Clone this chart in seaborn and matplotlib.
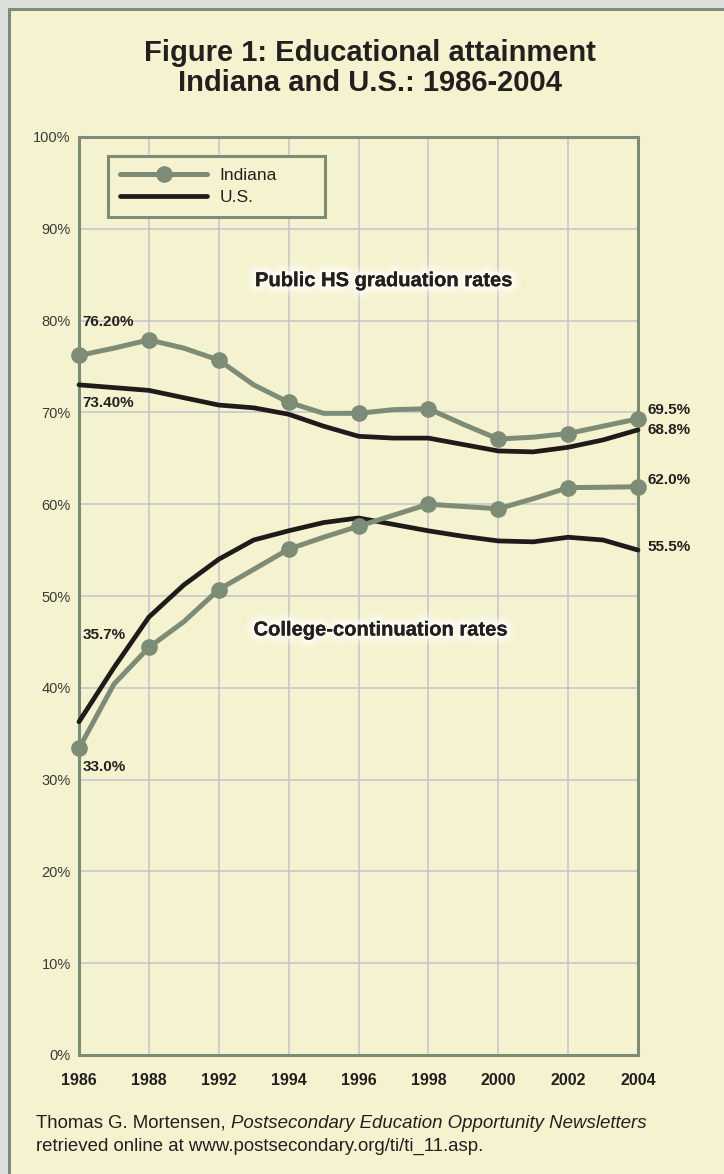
import matplotlib.pyplot as plt
import matplotlib.patheffects as pe
from matplotlib.patches import Rectangle
import pandas as pd
import seaborn as sns

# one position per gridline, plus a half step between them
steps = [0, 0.5, 1, 1.5, 2, 2.5, 3, 3.5, 4, 4.5, 5, 5.5, 6, 6.5, 7, 7.5, 8]
year_labels = ['1986', '1988', '1992', '1994', '1996', '1998', '2000', '2002', '2004']

# Public HS graduation rates (%)
indiana_hs = [76.2, 77.0, 77.9, 77.0, 75.7, 73.0, 71.1, 69.9, 69.9, 70.3, 70.4, 68.7, 67.1, 67.3, 67.7, 68.5, 69.3]
us_hs = [73.0, 72.7, 72.4, 71.6, 70.8, 70.5, 69.8, 68.5, 67.4, 67.2, 67.2, 66.5, 65.8, 65.7, 66.2, 67.0, 68.1]

# College-continuation rates (%)
indiana_cc = [33.4, 40.4, 44.4, 47.2, 50.7, 52.9, 55.1, 56.4, 57.6, 58.8, 60.0, 59.75, 59.5, 60.6, 61.8, 61.85, 61.9]
us_cc = [36.3, 42.2, 47.7, 51.2, 54.0, 56.1, 57.1, 58.0, 58.5, 57.8, 57.1, 56.5, 56.0, 55.9, 56.4, 56.1, 55.0]

left_labels = ['76.20%', '73.40%', '35.7%', '33.0%']
right_labels = ['69.5%', '68.8%', '62.0%', '55.5%']

yellow = '#f5f3cf'
green = '#7d8c76'
black = '#1f1b1b'
ink = '#231f20'
narrow = ['Liberation Sans Narrow', 'Liberation Sans', 'DejaVu Sans']
sans = ['Liberation Sans', 'DejaVu Sans']

sns.set_theme(style='whitegrid', rc={
    'axes.facecolor': yellow,
    'grid.color': '#c4c4cc',
    'grid.linewidth': 1.1,
    'axes.edgecolor': green,
    'axes.linewidth': 2.2,
})
plt.rcParams['font.family'] = sans

fig = plt.figure(figsize=(7.24, 11.74), dpi=100)
fig.patch.set_facecolor('#dcdedb')
panel = Rectangle((8.5 / 724, -0.05), 1.2, 1 - 8.5 / 1174 + 0.05, transform=fig.transFigure,
                  facecolor=yellow, edgecolor=green, linewidth=2.2, zorder=0)
fig.add_artist(panel)

ax = fig.add_axes([79 / 724, 119 / 1174, 559 / 724, 918 / 1174])

hs = pd.DataFrame({'step': steps, 'Indiana': indiana_hs, 'U.S.': us_hs})
cc = pd.DataFrame({'step': steps, 'Indiana': indiana_cc, 'U.S.': us_cc})

sns.lineplot(data=hs, x='step', y='U.S.', ax=ax, color=black, lw=3.4,
             label='U.S.', clip_on=False, zorder=3)
sns.lineplot(data=cc, x='step', y='U.S.', ax=ax, color=black, lw=3.4,
             clip_on=False, zorder=3)
sns.lineplot(data=hs, x='step', y='Indiana', ax=ax, color=green, lw=3.6,
             marker='o', markersize=12, markevery=2, markeredgewidth=0,
             label='Indiana', clip_on=False, zorder=4)
sns.lineplot(data=cc, x='step', y='Indiana', ax=ax, color=green, lw=3.6,
             marker='o', markersize=12, markevery=2, markeredgewidth=0,
             clip_on=False, zorder=4)

ax.set_xlim(0, 8)
ax.set_ylim(0, 100)
ax.set_xticks(range(len(year_labels)))
ax.set_xticklabels(year_labels, fontweight='bold', family=narrow, fontsize=11.5, color=ink)
ax.set_yticks(range(0, 101, 10))
ax.set_yticklabels([f'{v}%' for v in range(0, 101, 10)], family=narrow, fontsize=10.5, color='#3a3a3a')
ax.tick_params(axis='x', length=0, pad=13)
ax.tick_params(axis='y', length=0, pad=6)
ax.set_xlabel('')
ax.set_ylabel('')
for s in ax.spines.values():
    s.set_zorder(2)

# handles in legend order: Indiana first
handles, labels = ax.get_legend_handles_labels()
order = [labels.index('Indiana'), labels.index('U.S.')]
leg = ax.legend([handles[i] for i in order], [labels[i] for i in order],
                loc='upper left', bbox_to_anchor=(0.052, 0.9796 - 0.065, 0.388, 0.065),
                mode='expand', borderaxespad=0, frameon=True, fancybox=False,
                facecolor=yellow, edgecolor=green, framealpha=1, handlelength=5,
                handletextpad=0.7, borderpad=0.7, labelspacing=0.4,
                prop={'family': sans, 'size': 12.5})
leg.get_frame().set_linewidth(2.2)
for t in leg.get_texts():
    t.set_color(ink)

# value labels at the ends of the lines
lbl = dict(fontsize=11, fontweight='bold', color=ink, va='center', family=sans)
for txt, y in zip(left_labels, [79.85, 71.06, 45.75, 31.4]):
    ax.text(0.05, y, txt, ha='left', zorder=6, **lbl)
for txt, y in zip(right_labels, [70.26, 68.08, 62.64, 55.34]):
    ax.text(8.14, y, txt, ha='left', clip_on=False, **lbl)

glow = [pe.withStroke(linewidth=14, foreground='white', alpha=0.12),
        pe.withStroke(linewidth=9, foreground='white', alpha=0.25),
        pe.withStroke(linewidth=5, foreground='white', alpha=0.5),
        pe.Normal()]
ax.text(4.36, 84.35, 'Public HS graduation rates', ha='center', va='center',
        fontsize=14.5, fontweight='bold', color=ink, path_effects=glow, zorder=6)
ax.text(4.31, 46.3, 'College-continuation rates', ha='center', va='center',
        fontsize=14.5, fontweight='bold', color=ink, path_effects=glow, zorder=6)

fig.text(370 / 724, 1 - 68 / 1174, 'Figure 1: Educational attainment\nIndiana and U.S.: 1986-2004',
         ha='center', va='center', fontsize=21, fontweight='bold', family=narrow,
         color=ink, linespacing=1.12)

foot = dict(fontsize=13.4, family=narrow, color=ink, va='baseline')
t1 = fig.text(36 / 724, 1 - 1128 / 1174, 'Thomas G. Mortensen, ', **foot)
ax.annotate('Postsecondary Education Opportunity Newsletters', xy=(1, 0), xycoords=t1,
            xytext=(0, 0), textcoords='offset points', ha='left', va='bottom',
            style='italic', fontsize=13.4, family=narrow, color=ink, annotation_clip=False)
fig.text(36 / 724, 1 - 1151 / 1174, 'retrieved online at www.postsecondary.org/ti/ti_11.asp.', **foot)

fig.savefig('out.png', dpi=100, facecolor=fig.get_facecolor())
